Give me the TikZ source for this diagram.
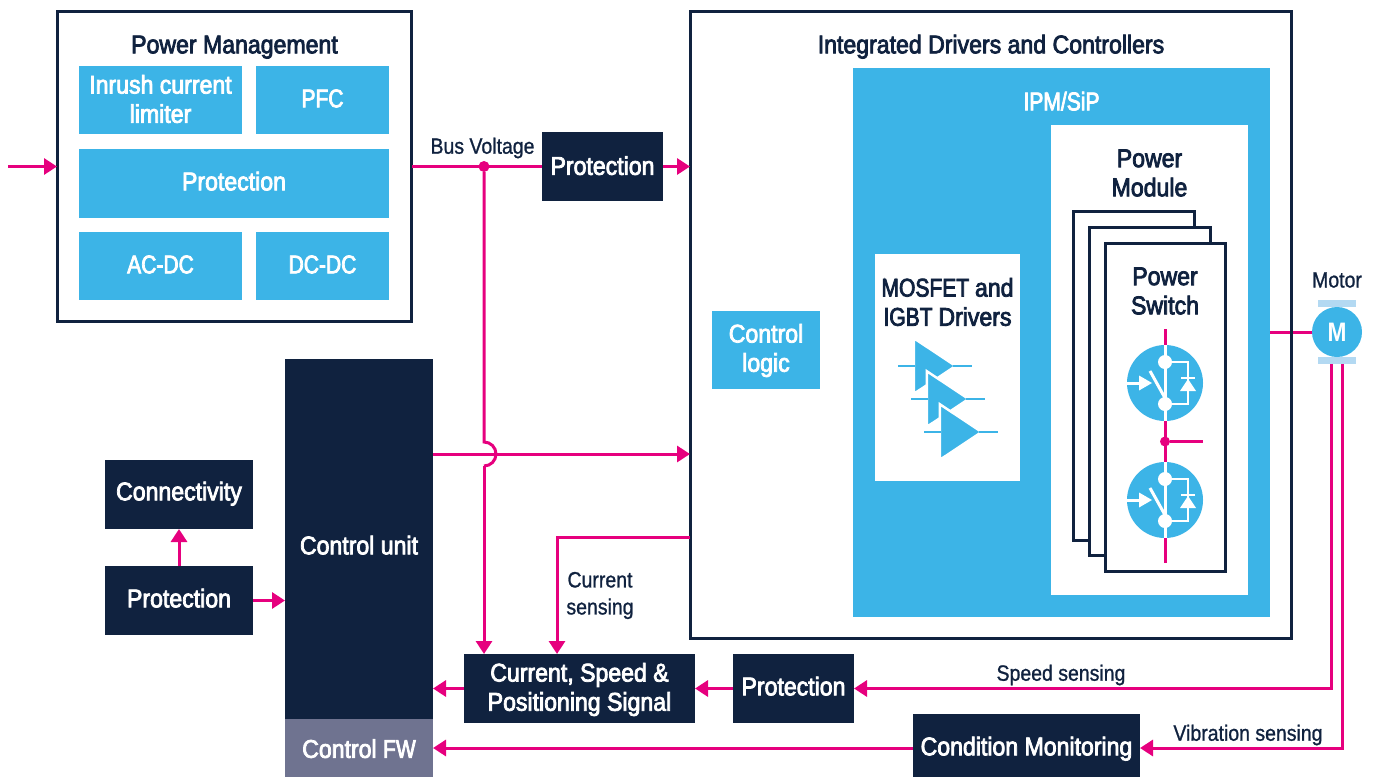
\documentclass[tikz,border=0pt]{standalone}
\usepackage{fontspec}
\setmainfont{Liberation Sans}
\newfontfamily\boxfont[FakeStretch=0.9,FakeBold=3]{Liberation Sans}
\newfontfamily\capfont[FakeStretch=0.82,FakeBold=3]{Liberation Sans}
\newfontfamily\lblfont[FakeStretch=0.88,FakeBold=1]{Liberation Sans}
\newfontfamily\mfont[FakeStretch=0.85]{Liberation Sans Bold}
\usetikzlibrary{arrows.meta,calc}
\definecolor{stpink}{HTML}{E6007E}
\definecolor{stnavy}{HTML}{10223F}
\definecolor{stblue}{HTML}{3CB4E7}
\definecolor{stlight}{HTML}{B3D9F2}
\definecolor{stgrey}{HTML}{6F7390}
\tikzset{
  x=0.05cm,y=-0.05cm,
  px/.style={line width=#1*1.4226pt},
  txt/.style={font=\boxfont\fontsize{36.5}{41.5}\selectfont,align=center,inner sep=0pt},
  one/.style={text height=23.7pt,text depth=0pt},
  lbl/.style={font=\lblfont\fontsize{31.5}{38.5}\selectfont,align=center,inner sep=0pt,text=stnavy},
  head/.style={txt,text=stnavy},
  sized/.style n args={2}{minimum width=#1*1.4226pt,minimum height=#2*1.4226pt,inner sep=0pt,outer sep=0pt},
  bluebox/.style 2 args={sized={#1}{#2},fill=stblue,txt,text=white},
  navybox/.style 2 args={sized={#1}{#2},fill=stnavy,txt,text=white},
  outline/.style 2 args={sized={#1}{#2},draw=stnavy,px=3,fill=white},
  whitebox/.style 2 args={sized={#1}{#2},fill=white},
  wire/.style={draw=stpink,px=3},
  arrowed/.style={wire,-{Triangle[length=18.5pt,width=22.8pt]}},
  dot/.style={circle,fill=stpink,inner sep=0pt,minimum size=#1*1.4226pt},
  pics/swicon/.style={code={
    \fill[stblue] (0,0) circle (38);
    \draw[white,px=3] (0,-38) -- (0,38);
    \fill[white] (0,-21) circle (7) (0,21) circle (7);
    \draw[white,px=2.8] (0,-21) -- (23,-21) -- (23,21) -- (0,21);
    \draw[white,px=3] (-15,-12) -- (0,15);
    \draw[white,px=2.8] (16,-5) -- (30,-5);
    \fill[white] (15,8) -- (31,8) -- (23,-4) -- cycle;
    \draw[white,px=3] (-38,0) -- (-26,0);
    \fill[white] (-26,-7.5) -- (-13,0) -- (-26,7.5) -- cycle;
  }},
  pics/ampicon/.style={code={
    \fill[stblue,draw=white,px=2.4] (-1.2,-27.8) -- (40.6,0) -- (-1.2,27.8) -- cycle;
    \draw[stblue,px=2.5] (-17,0) -- (0,0) (38,0) -- (57,0);
  }},
}
\begin{document}
\begin{tikzpicture}
\useasboundingbox (0,0) rectangle (1375,777);
% outer boxes
\node[outline={355}{311}] (pm) at (234.5,166.5) {};
\node[outline={602}{628}] (idc) at (991,325) {};
\node[head,one] (pmt) at (234.5,45) {Power Management};
\node[bluebox={163}{68}] (inrush) at (160.5,100) {};
\node[txt,text=white] (inrusht) at (160.5,99) {Inrush current\\limiter};
\node[bluebox={133}{68}] (pfc) at (322.5,100) {};
\node[txt,one,text=white] (pfct) at (322.5,99) {\capfont PFC};
\node[bluebox={310}{69}] (pmprot) at (234,183.5) {};
\node[txt,one,text=white] (pmprott) at (234,182) {Protection};
\node[bluebox={163}{68}] (acdc) at (160.5,266) {};
\node[txt,one,text=white] (acdct) at (160.5,265) {\capfont AC-DC};
\node[bluebox={133}{68}] (dcdc) at (322.5,266) {};
\node[txt,one,text=white] (dcdct) at (322.5,265) {\capfont DC-DC};
\node[head,one] (idct) at (991,45) {Integrated Drivers and Controllers};
\node[bluebox={417}{549}] (ipm) at (1061.5,342.5) {};
\node[txt,one,text=white] (ipmt) at (1061.5,102) {\capfont IPM/SiP};
\node[bluebox={108}{78}] (logic) at (766,350) {};
\node[txt,text=white] (logict) at (766,350.5) {Control\\logic};
\node[whitebox={145}{227}] (drv) at (947.5,367.5) {};
\node[head] (drvt) at (947.5,302) {\capfont MOSFET \boxfont and\\\capfont IGBT \boxfont Drivers};
\pic at (915,366) {ampicon};
\pic at (928,399) {ampicon};
\pic at (941,432) {ampicon};
\node[whitebox={197}{470}] (pmod) at (1149.5,360) {};
\node[head] (pmodt) at (1149.5,173) {Power\\Module};
\node[outline={121}{330}] (sw1) at (1133.5,376) {};
\node[outline={121}{329}] (sw2) at (1149.5,391.5) {};
\node[outline={120}{329}] (sw3) at (1165.5,407.5) {};
\node[head] (sw3t) at (1165,291) {Power\\Switch};
% switch wiring
\coordinate (swtop) at (1165,329);
\coordinate (swbot) at (1165,563);
\coordinate (swout) at (1203,441.5);
\node[dot=10] (swj) at (1165,441.5) {};
\draw[wire] (swtop) -- (swbot);
\draw[wire] (swj) -- (swout);
\pic at (1165,383) {swicon};
\pic at (1165,500) {swicon};
% motor
\node[lbl] (mott) at (1337,280) {Motor};
\fill[stlight] (1318,300) rectangle (1356,307);
\fill[stlight] (1318,357) rectangle (1356,364);
\node[circle,fill=stblue,minimum size=50*1.4226pt,inner sep=0pt,outer sep=0pt,txt,text=white,font=\mfont\fontsize{38}{44}\selectfont] (motor) at (1337,332) {M};
\draw[wire] (ipm.east |- motor) -- (motor.west);
% redraw frame over motor wire
\draw[stnavy,px=3] (idc.south west) rectangle (idc.north east);
% lower blocks
\node[navybox={148}{360}] (cu) at (359,539) {};
\node[txt,one,text=white] (cut) at (359,546) {Control unit};
\node[navybox={148}{58},fill=stgrey] (fw) at (359,748) {};
\node[txt,one,text=white] (fwt) at (359,749.5) {Control \capfont FW};
\node[navybox={148}{69}] (conn) at (179,494.5) {};
\node[txt,one,text=white] (connt) at (179,492) {Connectivity};
\node[navybox={148}{69}] (lprot) at (179,600.5) {};
\node[txt,one,text=white] (lprott) at (179,599) {Protection};
\node[navybox={121}{69},one] (tprot) at (602.5,166.5) {Protection};
\node[navybox={231}{69}] (cur) at (579.5,688.5) {};
\node[txt,text=white] (curt) at (579.5,689.5) {Current, Speed \&\\Positioning Signal};
\node[navybox={121}{69}] (sprot) at (793.5,688.5) {};
\node[txt,one,text=white] (sprott) at (793.5,687) {Protection};
\node[navybox={227}{63}] (cond) at (1026.5,745.5) {};
\node[txt,one,text=white] (condt) at (1026.5,747) {Condition Monitoring};
% connectors
\coordinate (in) at (8,166.5);
\draw[arrowed] (in) -- (pm.west);
\node[dot=11] (busj) at (484,166.5) {};
\draw[wire] (pm.east) -- (tprot.west);
\draw[arrowed] (tprot.east) -- (idc.west |- tprot.east);
\coordinate (cuout) at (cu.east |- 0,454);
\coordinate (hopt) at (484,442);
\coordinate (hopb) at (484,466);
\draw[arrowed] (cuout) -- (idc.west |- cuout);
\draw[wire] (busj) -- (hopt) arc[start angle=-90,end angle=90,radius=12];
\draw[arrowed] (hopb) -- (busj |- cur.north);
\coordinate (isense) at (idc.west |- 0,537);
\coordinate (isc) at (557,537);
\draw[arrowed] (isense) -- (isc) -- (isc |- cur.north);
\draw[arrowed] (lprot) -- (conn);
\draw[arrowed] (lprot.east) -- (cu.west |- lprot.east);
\draw[arrowed] (sprot.west) -- (cur.east);
\draw[arrowed] (cur.west) -- (cu.east |- cur.west);
\coordinate (m1) at (1331,364);
\coordinate (m2) at (1342.5,364);
\coordinate (condin) at (cond.east |- 0,748);
\coordinate (condout) at (cond.west |- 0,748);
\draw[arrowed] (m1) -- (m1 |- sprot.east) -- (sprot.east);
\draw[arrowed] (m2) -- (m2 |- condin) -- (condin);
\draw[arrowed] (condout) -- (fw.east |- condout);
% labels
\node[lbl] (busl) at (482.5,148) {Bus Voltage};
\node[lbl] (isl) at (600,595.5) {Current\\sensing};
\node[lbl] (spl) at (1061,675) {Speed sensing};
\node[lbl] (vbl) at (1248,735) {Vibration sensing};
\end{tikzpicture}
\end{document}
